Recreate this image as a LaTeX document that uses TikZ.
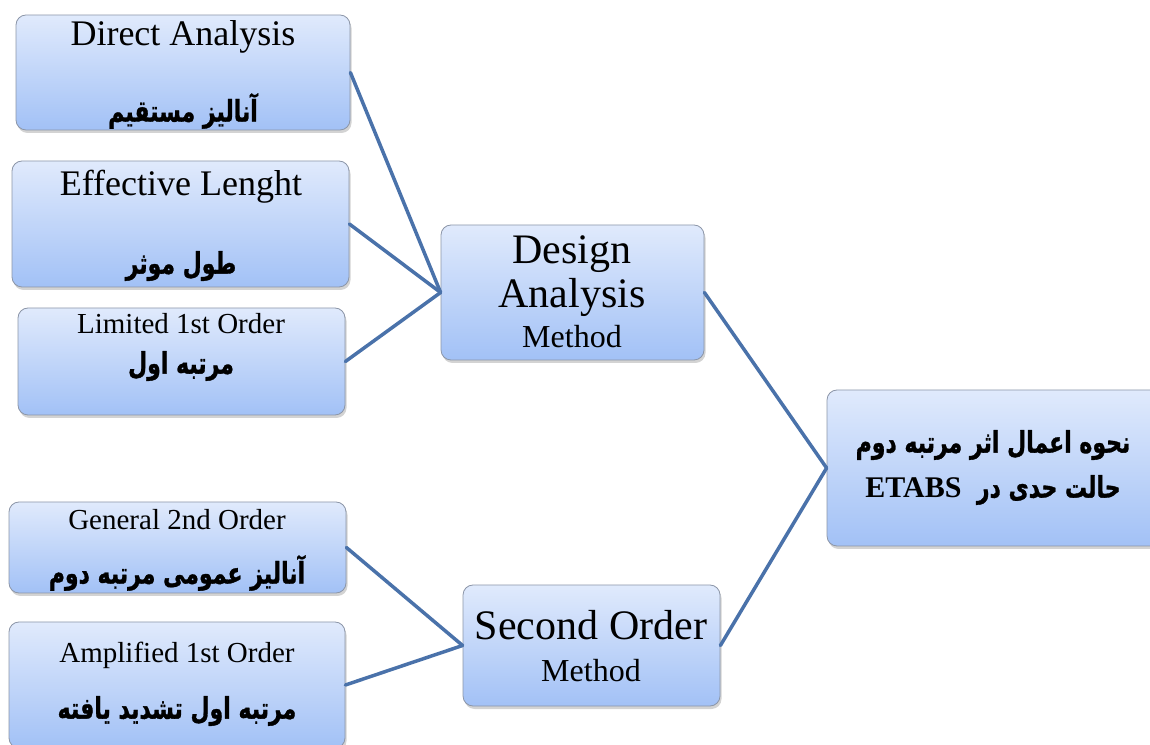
\documentclass[tikz,border=0pt]{standalone}
\usepackage{fontspec}
\setmainfont{Liberation Serif}
\newfontfamily\fafont[Script=Arabic,BoldFeatures={FakeBold=1.2}]{DejaVu Sans}
\newfontfamily\etfont{Liberation Serif}
\TeXXeTstate=1
\usetikzlibrary{shadows}
\definecolor{boxtop}{RGB}{224,234,252}
\definecolor{boxbot}{RGB}{162,193,246}
\definecolor{boxline}{RGB}{140,150,168}
\definecolor{linkblue}{RGB}{74,114,170}

\begin{document}
\begin{tikzpicture}[line cap=round,line join=round,x=1pt,y=1pt,
	box/.style={draw=boxline,line width=0.8pt,rounded corners=10pt,top color=boxtop,bottom color=boxbot,
		drop shadow={shadow xshift=1.5pt,shadow yshift=-3pt,opacity=0.35},inner sep=0pt},
	link/.style={draw=linkblue,line width=3.5pt},
	en/.style={font=\fontsize{#1}{#1}\selectfont,inner sep=0pt},
	fa/.style={font=\fontsize{#1}{#1}\selectfont\fafont\bfseries,inner sep=0pt,yscale=1.35,transform shape}]
			\clip(0,0) rectangle (1150,744);
			% boxes
			\node[box,minimum width=334,minimum height=115] (da) at (183,671.5) {};
			\node[box,minimum width=337,minimum height=126] (ef) at (180.5,520) {};
			\node[box,minimum width=327,minimum height=107] (li) at (181.5,382.5) {};
			\node[box,minimum width=263,minimum height=135] (dm) at (572.5,451.5) {};
			\node[box,minimum width=333,minimum height=156] (et) at (993.5,276) {};
			\node[box,minimum width=337,minimum height=91] (gs) at (177.5,196.5) {};
			\node[box,minimum width=336,minimum height=126] (am) at (177,59) {};
			\node[box,minimum width=257,minimum height=121] (so) at (591.5,98.5) {};
			% connectors
			\draw[link] (da.east) -- (dm.west);
			\draw[link] (ef.east) -- (dm.west);
			\draw[link] (li.east) -- (dm.west);
			\draw[link] (dm.east) -- (et.west);
			\draw[link] (so.east) -- (et.west);
			\draw[link] (gs.east) -- (so.west);
			\draw[link] (am.east) -- (so.west);
			% texts
			\node[en=36] (da-en) at (183,707) {Direct Analysis};
			\node[fa=22] (da-fa) at (183,633) {\beginR آنالیز مستقیم\endR};
			\node[en=36] (ef-en) at (181,557) {Effective Lenght};
			\node[fa=22] (ef-fa) at (181,478) {\beginR طول موثر\endR};
			\node[en=29] (li-en) at (181,420) {Limited 1st Order};
			\node[fa=22] (li-fa) at (181,378) {\beginR مرتبه اول\endR};
			\node[en=42] (dm-a) at (572,490) {Design};
			\node[en=42] (dm-b) at (572,447) {Analysis};
			\node[en=32] (dm-c) at (572,407) {Method};
			\node[fa=22] (et-a) at (993,299) {\beginR نحوه اعمال اثر مرتبه دوم\endR};
			\node[fa=22] (et-b) at (993,254) {\beginR حالت حدی در \ \beginL\scalebox{1}[0.74]{\etfont\bfseries\fontsize{30}{30}\selectfont ETABS}\endL\endR};
			\node[en=29] (gs-en) at (177,224) {General 2nd Order};
			\node[fa=22] (gs-fa) at (177,171) {\beginR آنالیز عمومی مرتبه دوم\endR};
			\node[en=29] (am-en) at (177,89) {Amplified 1st Order};
			\node[fa=22] (am-fa) at (177,33) {\beginR مرتبه اول تشدید یافته\endR};
			\node[en=42] (so-a) at (591,119) {Second Order};
			\node[en=32] (so-b) at (591,73) {Method};
		\end{tikzpicture}
\end{document}
